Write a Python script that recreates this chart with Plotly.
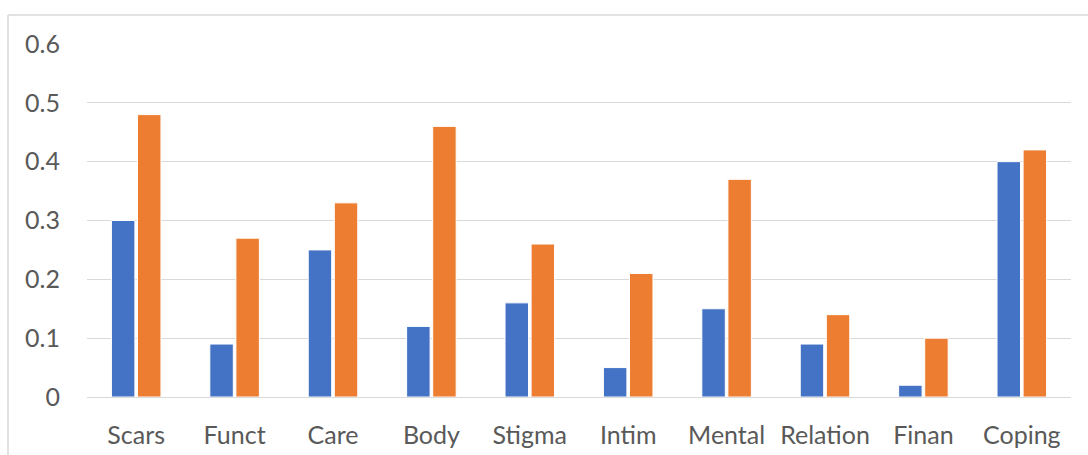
import plotly.graph_objects as go

categories = ["Scars", "Funct", "Care", "Body", "Stigma", "Intim", "Mental", "Relation", "Finan", "Coping"]
series_blue = [0.30, 0.09, 0.25, 0.12, 0.16, 0.05, 0.15, 0.09, 0.02, 0.40]
series_orange = [0.48, 0.27, 0.33, 0.46, 0.26, 0.21, 0.37, 0.14, 0.10, 0.42]
y_ticks = [0, 0.1, 0.2, 0.3, 0.4, 0.5, 0.6]
y_tick_text = ["0", "0.1", "0.2", "0.3", "0.4", "0.5", "0.6"]

fig = go.Figure()
fig.add_trace(go.Bar(x=categories, y=series_blue, name="Series1",
                     marker=dict(color="#4472C4", line=dict(color="white", width=1))))
fig.add_trace(go.Bar(x=categories, y=series_orange, name="Series2",
                     marker=dict(color="#ED7D31", line=dict(color="white", width=1))))

L, R, T, B = 87, 17, 44, 58
W, H = 1088, 455
pw, ph = W - L - R, H - T - B
def px_x(x):
    return (x - L) / pw
def px_y(y):
    return (H - B - y) / ph

fig.update_layout(
    width=W, height=H,
    margin=dict(l=L, r=R, t=T, b=B, pad=0, autoexpand=False),
    paper_bgcolor="white", plot_bgcolor="white",
    barmode="group", bargap=0.47, bargroupgap=0.1,
    showlegend=False,
    font=dict(family="Lato, Open Sans, sans-serif", size=25, color="#595959"),
    xaxis=dict(showgrid=False, showline=False, ticks="", ticklabelstandoff=21,
               automargin=False, tickfont=dict(size=25, color="#595959")),
    yaxis=dict(range=[0, 0.6], tickvals=y_ticks, ticktext=y_tick_text,
               showgrid=True, gridcolor="#D9D9D9", gridwidth=1.3,
               zeroline=True, zerolinecolor="#D9D9D9", zerolinewidth=1.3,
               showline=False, ticks="", ticklabelstandoff=26, automargin=False,
               tickfont=dict(size=25, color="#595959")),
    shapes=[
        dict(type="line", xref="paper", yref="paper",
             x0=px_x(8), x1=px_x(W + 5), y0=px_y(15), y1=px_y(15),
             line=dict(color="#D9D9D9", width=1.5)),
        dict(type="line", xref="paper", yref="paper",
             x0=px_x(8), x1=px_x(8), y0=px_y(15), y1=px_y(H + 5),
             line=dict(color="#D9D9D9", width=1.5)),
    ],
)

fig.write_html("out.html")
